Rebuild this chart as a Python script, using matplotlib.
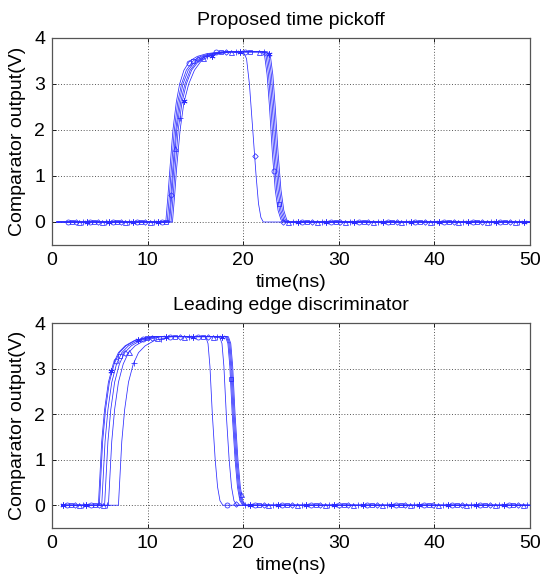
import numpy as np
import matplotlib
matplotlib.use("Agg")
import matplotlib.pyplot as plt

plt.rcParams['font.family'] = ['Liberation Sans', 'DejaVu Sans']
plt.rcParams['font.size'] = 14

# ---------------- data: top panel (Proposed time pickoff) ----------------
TOP_START, END_T = 0.5, 50.0
TOP_RISE_V = [0, 0.5, 1.2, 2.0, 2.6, 3.0, 3.3, 3.5, 3.6, 3.66, 3.7]
TOP_FALL_V_LATE = [3.7, 3.6, 3.2, 2.5, 1.5, 0.7, 0.25, 0.05, 0]
TOP_FALL_V_EARLY = [3.7, 3.55, 3.0, 2.0, 1.0, 0.4, 0.1, 0]

top_rise_t = [
    [11.9, 12.1, 12.35, 12.65, 13.0, 13.35, 13.8, 14.4, 15.2, 16.2, 17.7],
    [12.05, 12.25, 12.5, 12.8, 13.15, 13.55, 14.05, 14.75, 15.55, 16.55, 18.05],
    [12.2, 12.4, 12.65, 12.95, 13.3, 13.7, 14.25, 15.0, 15.8, 16.8, 18.3],
    [12.3, 12.5, 12.75, 13.05, 13.45, 13.9, 14.45, 15.2, 16.0, 17.0, 18.5],
    [12.45, 12.65, 12.9, 13.2, 13.6, 14.05, 14.6, 15.35, 16.15, 17.15, 18.65],
    [12.6, 12.8, 13.05, 13.4, 13.8, 14.3, 14.9, 15.6, 16.4, 17.4, 18.9],
]
top_fall_t = [
    [21.95, 22.25, 22.5, 22.75, 23.05, 23.35, 23.65, 23.95, 24.25],
    [22.1, 22.4, 22.65, 22.9, 23.2, 23.5, 23.8, 24.1, 24.4],
    [20.0, 20.35, 20.65, 21.0, 21.35, 21.6, 21.85, 22.1],
    [22.25, 22.55, 22.8, 23.05, 23.35, 23.65, 23.95, 24.25, 24.55],
    [22.4, 22.7, 22.95, 23.2, 23.5, 23.8, 24.1, 24.4, 24.7],
    [22.55, 22.85, 23.1, 23.35, 23.65, 23.95, 24.25, 24.55, 24.85],
]
top_fall_kind = ['late', 'late', 'early', 'late', 'late', 'late']
top_groups = [1.7, 4.0, 6.4, 8.9, 11.5, 14.3, 17.2, 20.2, 23.2, 26.2, 29.2,
              32.1, 35.1, 38.0, 41.0, 44.0, 46.9, 49.9]
top_markers = ['o', 's', 'd', '^', '+', '*']

# ---------------- data: bottom panel (Leading edge discriminator) ----------------
BOT_START = 1.0
BOT_RISE_V = [0, 0.6, 1.4, 2.1, 2.7, 3.1, 3.35, 3.5, 3.62, 3.7]
BOT_FALL_V = [3.7, 3.55, 3.05, 2.0, 1.0, 0.4, 0.1, 0]

bot_rise_t = [
    [4.85, 5.0, 5.2, 5.5, 5.9, 6.4, 6.95, 7.65, 8.65, 10.35],
    [4.95, 5.1, 5.3, 5.6, 6.0, 6.5, 7.05, 7.75, 8.75, 10.45],
    [5.2, 5.35, 5.55, 5.85, 6.25, 6.75, 7.3, 8.0, 9.0, 10.7],
    [5.5, 5.65, 5.85, 6.15, 6.55, 7.05, 7.6, 8.3, 9.3, 11.0],
    [5.9, 6.05, 6.25, 6.55, 6.95, 7.45, 8.0, 8.7, 9.7, 11.4],
    [6.95, 7.1, 7.3, 7.6, 8.0, 8.5, 9.05, 9.75, 10.75, 12.45],
]
bot_fall_t = [
    [18.15, 18.4, 18.6, 18.85, 19.15, 19.4, 19.65, 19.95],
    [16.07, 16.32, 16.52, 16.77, 17.07, 17.32, 17.57, 17.87],
    [18.25, 18.5, 18.7, 18.95, 19.25, 19.5, 19.75, 20.05],
    [17.53, 17.78, 17.98, 18.23, 18.53, 18.78, 19.03, 19.33],
    [18.35, 18.6, 18.8, 19.05, 19.35, 19.6, 19.85, 20.15],
    [18.45, 18.7, 18.9, 19.15, 19.45, 19.7, 19.95, 20.25],
]
bot_groups = [1.2, 3.6, 6.2, 9.0, 11.9, 14.8, 17.8, 20.7, 23.6, 26.6, 29.5,
              32.5, 35.5, 38.4, 41.4, 44.3, 47.3, 50.2]
bot_markers = ['*', 'o', 's', 'd', '^', '+']

BLUE = '#2a2aff'

MSTYLE = {'o': 'o', 's': 's', 'd': 'D', '^': '^', '+': '+', '*': (6, 2, 0)}
MSIZE = {'o': 3.6, 's': 3.2, 'd': 2.8, '^': 3.6, '+': 4.2, '*': 4.4}


def draw_panel(ax, start, rise_t, rise_v, fall_t, fall_v_list, groups, markers):
    g = np.asarray(groups)
    for k in range(len(rise_t)):
        t = np.concatenate([[start], rise_t[k], fall_t[k], [END_T]])
        v = np.concatenate([[0.0], rise_v, fall_v_list[k], [0.0]])
        ax.plot(t, v, color=BLUE, lw=0.55, zorder=3)
        mt = g[:-1] + k / 6.0 * np.diff(g)
        mt = mt[(mt >= start) & (mt <= END_T)]
        mv = np.interp(mt, t, v)
        m = markers[k]
        ax.plot(mt, mv, linestyle='none', marker=MSTYLE[m], ms=MSIZE[m],
                mfc='none', mec=BLUE, mew=0.55, zorder=4)


def style_axes(ax, title):
    ax.set_xlim(0, 50)
    ax.set_ylim(-0.5, 4)
    ax.set_xticks([0, 10, 20, 30, 40, 50])
    ax.set_yticks([0, 1, 2, 3, 4])
    ax.grid(True, linestyle=(0, (1.2, 2.2)), color='0.25', lw=0.6)
    ax.tick_params(direction='in', length=3, width=0.6, top=True, right=True,
                   pad=5, labelsize=14, colors='black')
    for s in ax.spines.values():
        s.set_color('#555555')
        s.set_linewidth(0.9)
    ax.set_title(title, fontsize=14, pad=9)
    ax.set_xlabel('time(ns)', fontsize=14, labelpad=4)
    ax.set_ylabel('Comparator output(V)', fontsize=14, labelpad=6)


fig = plt.figure(figsize=(5.5, 5.74), dpi=100)
ax1 = fig.add_axes([52 / 550, 1 - 245 / 574, 478 / 550, 207 / 574])
ax2 = fig.add_axes([52 / 550, 1 - 528 / 574, 478 / 550, 205 / 574])

top_fall_v = [TOP_FALL_V_LATE if kd == 'late' else TOP_FALL_V_EARLY for kd in top_fall_kind]
draw_panel(ax1, TOP_START, top_rise_t, TOP_RISE_V, top_fall_t, top_fall_v,
           top_groups, top_markers)
draw_panel(ax2, BOT_START, bot_rise_t, BOT_RISE_V, bot_fall_t,
           [BOT_FALL_V] * len(bot_fall_t), bot_groups, bot_markers)

style_axes(ax1, 'Proposed time pickoff')
style_axes(ax2, 'Leading edge discriminator')

fig.savefig('out.png', dpi=100)
